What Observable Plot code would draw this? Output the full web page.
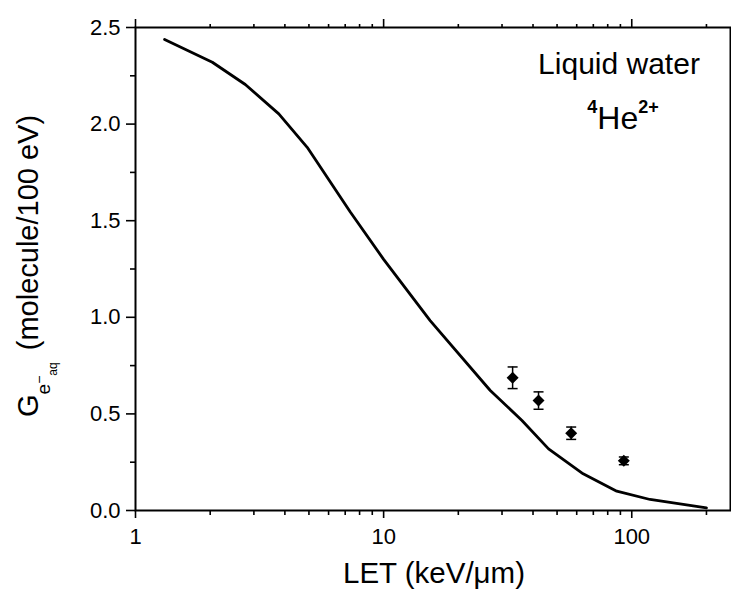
<!DOCTYPE html>
<html><head><meta charset="utf-8">
<script src="https://cdn.jsdelivr.net/npm/d3@7"></script>
<script src="https://cdn.jsdelivr.net/npm/@observablehq/plot@0.6"></script>
<style>
body{margin:0;background:#fff} svg{display:block}
#chart svg g[aria-label="y-axis tick label"], #chart svg g[aria-label="x-axis tick label"] {font-size: 22px !important;}
</style>
</head><body><div id="chart"></div>
<script>
// Model curve: LET (keV/µm) vs G(e-aq) (molecule/100 eV)
const curveLET = [1.31, 2.04, 2.77, 3.78, 4.92, 7.34, 10, 15.4, 26.9, 36.1, 46.2, 63.7, 87, 118.5, 200];
const curveG   = [2.438, 2.32, 2.205, 2.053, 1.88, 1.545, 1.30, 0.983, 0.621, 0.466, 0.319, 0.19, 0.10, 0.057, 0.014];
// Experimental points with error bars
const expLET = [33.1, 42.1, 57.0, 92.9];
const expG   = [0.687, 0.569, 0.40, 0.257];
const expErr = [0.056, 0.045, 0.032, 0.02];
// Ticks
const xMajor = [1, 10, 100];
const xMinor = [2, 3, 4, 5, 6, 7, 8, 9, 20, 30, 40, 50, 60, 70, 80, 90, 200];
const yMajor = [0, 0.5, 1, 1.5, 2, 2.5];
const yMinor = [0.25, 0.75, 1.25, 1.75, 2.25];

const curve = curveLET.map((x, i) => ({x, y: curveG[i]}));
const exp = expLET.map((x, i) => ({x, y: expG[i], lo: expG[i] - expErr[i], hi: expG[i] + expErr[i]}));
const capSymbol = {draw(ctx, size) { const r = Math.sqrt(size / Math.PI); ctx.moveTo(-r, 0); ctx.lineTo(r, 0); }};
const empty = () => "";

const plot = Plot.plot({
  width: 731, height: 592,
  marginLeft: 135, marginRight: 1, marginTop: 27, marginBottom: 82,
  style: {fontFamily: "'Liberation Sans', Arial, sans-serif", color: "#000", background: "#fff"},
  x: {type: "log", domain: [1, 250]},
  y: {domain: [0, 2.5]},
  marks: [
    Plot.axisY({ticks: yMajor, tickSize: 9, tickPadding: 6, tickFormat: d3.format(".1f"), fontSize: 22, label: null, strokeWidth: 1.6}),
    Plot.axisY({ticks: yMinor, tickSize: 5, tickFormat: empty, label: null, strokeWidth: 1.6}),
    Plot.axisX({ticks: xMajor, tickSize: 8, tickPadding: 10, tickFormat: d => String(d), fontSize: 22, label: null, strokeWidth: 1.6}),
    Plot.axisX({ticks: xMinor, tickSize: 5, tickFormat: empty, label: null, strokeWidth: 1.6}),
    Plot.axisX({anchor: "top", ticks: xMajor, tickSize: 9, tickFormat: empty, label: null, strokeWidth: 1.6}),
    Plot.axisX({anchor: "top", ticks: xMinor, tickSize: 4, tickFormat: empty, label: null, strokeWidth: 1.6}),
    Plot.frame({stroke: "#000", strokeWidth: 2}),
    Plot.line(curve, {x: "x", y: "y", stroke: "#000", strokeWidth: 2.8, curve: "linear"}),
    Plot.ruleX(exp, {x: "x", y1: "lo", y2: "hi", stroke: "#000", strokeWidth: 1.5}),
    Plot.dot(exp, {x: "x", y: "lo", symbol: capSymbol, r: 5, stroke: "#000", strokeWidth: 1.5}),
    Plot.dot(exp, {x: "x", y: "hi", symbol: capSymbol, r: 5, stroke: "#000", strokeWidth: 1.5}),
    Plot.dot(exp, {x: "x", y: "y", symbol: "diamond2", r: 5.4, fill: "#000", stroke: "none"})
  ]
});

const svg = d3.select(plot);

svg.append("text").attr("x", 619).attr("y", 74).attr("text-anchor", "middle")
  .attr("font-size", 30).attr("fill", "#000").text("Liquid water");
const he = svg.append("text").attr("x", 623).attr("y", 129).attr("text-anchor", "middle")
  .attr("font-size", 32).attr("fill", "#000");
he.append("tspan").attr("font-size", 18).attr("font-weight", "bold").attr("dy", -16).text("4");
he.append("tspan").attr("dy", 16).text("He");
he.append("tspan").attr("font-size", 18).attr("font-weight", "bold").attr("dy", -16).text("2+");

svg.append("text").attr("x", 434).attr("y", 583).attr("text-anchor", "middle")
  .attr("font-size", 29.5).attr("fill", "#000").text("LET (keV/\u03bcm)");

const yl = svg.append("text").attr("transform", "translate(38,417) rotate(-90)")
  .attr("text-anchor", "start").attr("font-size", 29).attr("fill", "#000");
yl.append("tspan").text("G");
yl.append("tspan").attr("font-size", 19).attr("dy", 12).text("e");
yl.append("tspan").attr("font-size", 14).attr("dy", -6).text("\u2212");
yl.append("tspan").attr("font-size", 12).attr("dy", 13).text("aq");
yl.append("tspan").attr("dy", -19).attr("dx", 4).text(" (molecule/100 eV)");

document.getElementById("chart").appendChild(plot);
</script>
</body></html>
